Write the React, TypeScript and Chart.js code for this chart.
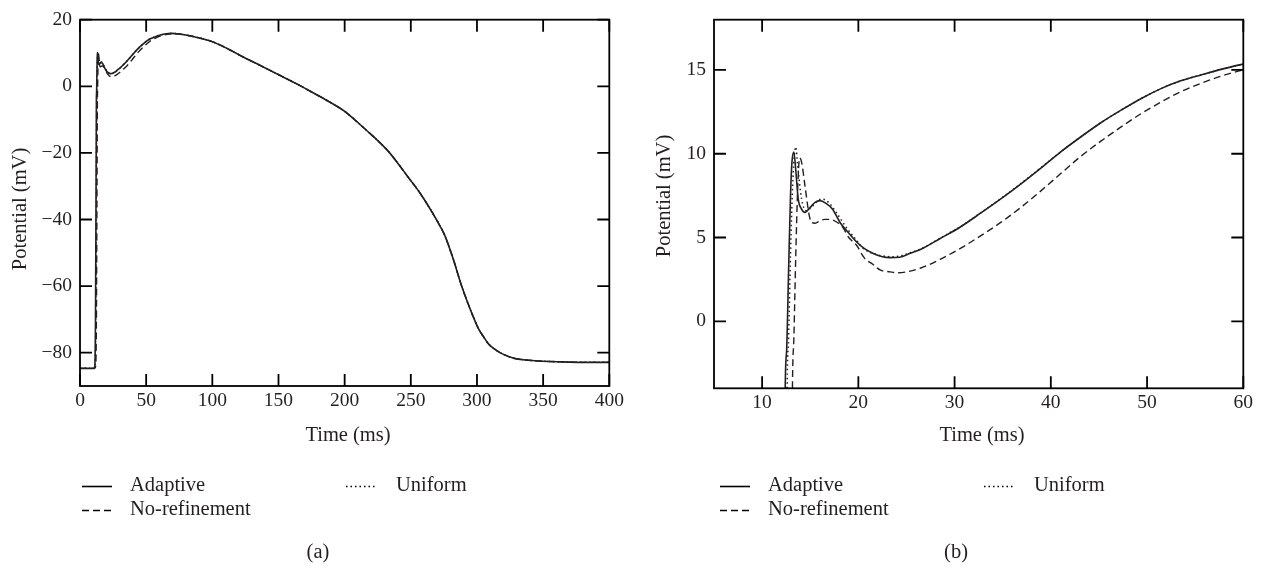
import React, { useEffect, useRef } from "react";
import { Chart, registerables } from "chart.js";

Chart.register(...registerables);

// ---------------- data (time in ms, potential in mV) ----------------
const seriesNames = ["Adaptive", "Uniform", "No-refinement"];

const adaptive: [number, number][] = [
  [0, -84.7], [10.5, -84.7], [11.2, -84], [11.7, -70], [12.1, -35], [12.4, -4],
  [12.55, -1.7], [12.75, 3], [12.95, 7.5], [13.1, 9.5], [13.3, 10.1], [13.5, 9.0],
  [13.75, 7.3], [14.1, 6.7], [14.45, 6.5], [15.0, 6.8], [15.5, 7.1], [16.0, 7.2],
  [16.6, 7.05], [17.3, 6.7], [18.1, 5.9], [18.8, 5.4], [19.8, 4.75], [20.6, 4.35],
  [21.5, 4.06], [22.5, 3.85], [23.3, 3.8], [24.3, 3.82], [25.4, 4.06], [26.5, 4.3],
  [28.5, 4.94], [30.6, 5.63], [32.7, 6.45], [34.8, 7.3], [37, 8.25], [39, 9.16],
  [41, 10.1], [43.1, 11.0], [45.2, 11.85], [47.3, 12.6], [49.4, 13.3], [51.5, 13.9],
  [53.5, 14.35], [55.6, 14.7], [57.8, 15.05], [60, 15.35], [64, 15.7], [69.3, 15.9],
  [75, 15.7], [85, 15.0], [100, 13.4], [112, 11.2], [124.8, 8.5], [137, 6.1],
  [149.5, 3.6], [164.9, 0.5], [175, -1.7], [186.4, -4.2], [200.3, -7.6], [208, -10.2],
  [217.3, -13.5], [225, -16.3], [232.7, -19.4], [240, -23], [248, -27.3], [256, -31.5],
  [263.5, -36.1], [270, -40.5], [275.8, -44.9], [282, -51.8], [288.1, -59.6], [293, -65],
  [297.4, -69.4], [301, -72.7], [305.1, -75.3], [309, -77.5], [314.3, -79.2], [320, -80.5],
  [328.2, -81.7], [337, -82.2], [346.7, -82.5], [360, -82.7], [380, -82.9], [400, -82.9],
];

const uniform: [number, number][] = [
  [0, -84.7], [10.7, -84.7], [11.4, -84], [11.9, -70], [12.3, -35], [12.6, -4],
  [12.75, -1], [12.95, 4], [13.2, 8.5], [13.5, 10.4], [13.7, 9.26], [14.1, 7.3],
  [14.6, 6.6], [15.2, 6.85], [15.7, 7.15], [16.2, 7.3], [16.9, 7.1], [17.7, 6.5],
  [18.4, 5.9], [19.0, 5.4], [19.8, 4.85], [20.5, 4.35], [21.5, 4.05], [22.6, 3.9],
  [23.5, 3.85], [24.5, 3.92], [25.4, 4.1], [26.5, 4.32],
  [28.5, 4.96], [30.6, 5.65], [32.7, 6.47], [34.8, 7.32], [37, 8.27], [39, 9.18],
  [41, 10.1], [43.1, 11.0], [45.2, 11.85], [47.3, 12.6], [49.4, 13.3], [51.5, 13.9],
  [53.5, 14.35], [55.6, 14.7], [57.8, 15.05], [60, 15.35], [64, 15.7], [69.3, 15.9],
  [75, 15.7], [85, 15.0], [100, 13.4], [112, 11.2], [124.8, 8.5], [137, 6.1],
  [149.5, 3.6], [164.9, 0.5], [175, -1.7], [186.4, -4.2], [200.3, -7.6], [208, -10.2],
  [217.3, -13.5], [225, -16.3], [232.7, -19.4], [240, -23], [248, -27.3], [256, -31.5],
  [263.5, -36.1], [270, -40.5], [275.8, -44.9], [282, -51.8], [288.1, -59.6], [293, -65],
  [297.4, -69.4], [301, -72.7], [305.1, -75.3], [309, -77.5], [314.3, -79.2], [320, -80.5],
  [328.2, -81.7], [337, -82.2], [346.7, -82.5], [360, -82.7], [380, -82.9], [400, -82.9],
];

const noRefinement: [number, number][] = [
  [0, -84.7], [11.2, -84.7], [11.9, -84], [12.4, -70], [12.8, -35], [13.15, -4],
  [13.3, -1], [13.5, 4], [13.7, 8], [13.9, 9.75], [14.1, 9.5], [14.45, 8.1],
  [14.9, 6.3], [15.15, 5.9], [15.5, 5.85], [16.0, 6.0], [16.5, 6.08], [17.0, 6.08],
  [17.5, 6.0], [18.4, 5.6], [19.0, 5.0], [19.8, 4.55], [20.6, 3.8], [21.5, 3.4],
  [22.3, 3.05], [23.3, 2.95], [24.0, 2.9], [25.0, 2.95], [26.5, 3.18], [28.5, 3.7],
  [30.6, 4.35], [32.7, 5.1], [34.8, 5.9], [37, 6.85], [39, 7.8], [41, 8.8],
  [43.1, 9.84], [45.2, 10.75], [47.3, 11.6], [49.4, 12.4], [51.5, 13.1], [53.5, 13.7],
  [55.6, 14.2], [57.8, 14.65], [60, 15.0], [64, 15.45], [69.3, 15.8], [75, 15.7],
  [85, 15.0], [100, 13.4], [112, 11.2], [124.8, 8.5], [137, 6.1],
  [149.5, 3.6], [164.9, 0.5], [175, -1.7], [186.4, -4.2], [200.3, -7.6], [208, -10.2],
  [217.3, -13.5], [225, -16.3], [232.7, -19.4], [240, -23], [248, -27.3], [256, -31.5],
  [263.5, -36.1], [270, -40.5], [275.8, -44.9], [282, -51.8], [288.1, -59.6], [293, -65],
  [297.4, -69.4], [301, -72.7], [305.1, -75.3], [309, -77.5], [314.3, -79.2], [320, -80.5],
  [328.2, -81.7], [337, -82.2], [346.7, -82.5], [360, -82.7], [380, -82.9], [400, -82.9],
];

// axis ranges and ticks
const xRangeA = [0, 400];
const yRangeA = [-90, 20];
const xTicksA = [0, 50, 100, 150, 200, 250, 300, 350, 400];
const yTicksA = [-80, -60, -40, -20, 0, 20];

const xRangeB = [5, 60];
const yRangeB = [-4, 18];
const xTicksB = [10, 20, 30, 40, 50, 60];
const yTicksB = [0, 5, 10, 15];

const xTitle = "Time (ms)";
const yTitle = "Potential (mV)";
const captions = ["(a)", "(b)"];

// ---------------- styling / layout ----------------
const W = 635;
const H = 571;
const INK = "#231f20";
const FONT = '"Liberation Serif", "Times New Roman", serif';
const TEXT_SIZE = 20.5;
const TICK_SIZE = 19.5;

const lineStyles = [
  { dash: [] as number[], width: 1.6 },
  { dash: [1.5, 3], width: 1.5 },
  { dash: [7, 4], width: 1.4 },
];

type Panel = {
  left: number;
  top: number;
  bottom: number;
  yTitleX: number;
  yTitleY: number;
  caption: string;
  captionX: number;
  legendShift: number;
};

const panels: Panel[] = [
  { left: 0, top: 12.7, bottom: 386, yTitleX: 21, yTitleY: 209, caption: captions[0], captionX: 318, legendShift: 0 },
  { left: 634, top: 14, bottom: 388.3, yTitleX: 31, yTitleY: 196, caption: captions[1], captionX: 322, legendShift: 4 },
];

const PLOT_LEFT = 80;
const PLOT_RIGHT = 609.3;
const TICK_LEN = 12;

const fmt = (v: number) => String(v).replace("-", "\u2212");

function makeChart(
  canvas: HTMLCanvasElement,
  panel: Panel,
  xRange: number[],
  yRange: number[],
  xTicks: number[],
  yTicks: number[]
) {
  const series = [adaptive, uniform, noRefinement];
  const datasets = series.map((s, i) => ({
    label: seriesNames[i],
    data: s.map(([x, y]) => ({ x, y })),
    borderColor: INK,
    borderWidth: lineStyles[i].width,
    borderDash: lineStyles[i].dash,
    pointRadius: 0,
    fill: false,
    cubicInterpolationMode: "monotone" as const,
  }));

  const decor = {
    id: "decor",
    afterDraw(chart: any) {
      const ctx = chart.ctx as CanvasRenderingContext2D;
      const { left, right, top, bottom } = chart.chartArea;
      const xs = chart.scales.x;
      const ys = chart.scales.y;
      ctx.save();
      ctx.strokeStyle = "#000";
      ctx.lineWidth = 1.8;
      ctx.setLineDash([]);
      ctx.strokeRect(left, top, right - left, bottom - top);
      ctx.beginPath();
      for (const t of xs.ticks) {
        const px = xs.getPixelForValue(t.value);
        ctx.moveTo(px, bottom);
        ctx.lineTo(px, bottom - TICK_LEN);
        ctx.moveTo(px, top);
        ctx.lineTo(px, top + TICK_LEN);
      }
      for (const t of ys.ticks) {
        const py = ys.getPixelForValue(t.value);
        ctx.moveTo(left, py);
        ctx.lineTo(left + TICK_LEN, py);
        ctx.moveTo(right, py);
        ctx.lineTo(right - TICK_LEN, py);
      }
      ctx.stroke();

      // axis titles
      ctx.fillStyle = INK;
      ctx.font = `${TEXT_SIZE}px ${FONT}`;
      ctx.textAlign = "center";
      ctx.textBaseline = "middle";
      ctx.fillText(xTitle, 348, 436);
      ctx.save();
      ctx.translate(panel.yTitleX, panel.yTitleY);
      ctx.rotate(-Math.PI / 2);
      ctx.fillText(yTitle, 0, 0);
      ctx.restore();

      // legend
      const s = panel.legendShift;
      const entries = [
        { i: 0, x: 82 + s, y: 486.5, tx: 130 + s },
        { i: 1, x: 346 + s, y: 486.5, tx: 396 + s },
        { i: 2, x: 82 + s, y: 510.5, tx: 130 + s },
      ];
      for (const e of entries) {
        const ds = chart.data.datasets[e.i];
        ctx.strokeStyle = "#000";
        ctx.lineWidth = ds.borderWidth;
        ctx.setLineDash(ds.borderDash || []);
        ctx.beginPath();
        ctx.moveTo(e.x, e.y);
        ctx.lineTo(e.x + 30, e.y);
        ctx.stroke();
        ctx.setLineDash([]);
        ctx.textAlign = "left";
        ctx.fillText(ds.label, e.tx, e.y - 1);
      }

      // caption
      ctx.textAlign = "center";
      ctx.fillText(panel.caption, panel.captionX, 553);
      ctx.restore();
    },
  };

  const tickFont = { family: FONT, size: TICK_SIZE };

  return new Chart(canvas, {
    type: "line",
    data: { datasets },
    options: {
      animation: false,
      responsive: false,
      devicePixelRatio: 1,
      layout: { padding: { left: 0, top: panel.top, right: W - PLOT_RIGHT, bottom: 0 } },
      plugins: { legend: { display: false }, tooltip: { enabled: false } },
      scales: {
        x: {
          type: "linear",
          min: xRange[0],
          max: xRange[1],
          grid: { display: false, drawTicks: false },
          border: { display: false },
          ticks: { padding: 3, font: tickFont, color: INK, maxRotation: 0, autoSkip: false, callback: (v: any) => fmt(Number(v)) },
          afterBuildTicks: (sc: any) => {
            sc.ticks = xTicks.map((v) => ({ value: v }));
          },
          afterFit: (sc: any) => {
            sc.height = H - panel.bottom;
          },
        },
        y: {
          type: "linear",
          min: yRange[0],
          max: yRange[1],
          grid: { display: false, drawTicks: false },
          border: { display: false },
          ticks: { padding: 8, font: tickFont, color: INK, autoSkip: false, callback: (v: any) => fmt(Number(v)) },
          afterBuildTicks: (sc: any) => {
            sc.ticks = yTicks.map((v) => ({ value: v }));
          },
          afterFit: (sc: any) => {
            sc.width = PLOT_LEFT;
          },
        },
      },
    },
    plugins: [decor],
  } as any);
}

export default function App() {
  const refA = useRef<HTMLCanvasElement>(null);
  const refB = useRef<HTMLCanvasElement>(null);

  useEffect(() => {
    const a = makeChart(refA.current!, panels[0], xRangeA, yRangeA, xTicksA, yTicksA);
    const b = makeChart(refB.current!, panels[1], xRangeB, yRangeB, xTicksB, yTicksB);
    return () => {
      a.destroy();
      b.destroy();
    };
  }, []);

  return (
    <div style={{ position: "absolute", left: 0, top: 0, width: 1269, height: 571, background: "#fff", overflow: "hidden" }}>
      <canvas ref={refA} width={W} height={H} style={{ position: "absolute", left: panels[0].left, top: 0, width: W, height: H }} />
      <canvas ref={refB} width={W} height={H} style={{ position: "absolute", left: panels[1].left, top: 0, width: W, height: H }} />
    </div>
  );
}
